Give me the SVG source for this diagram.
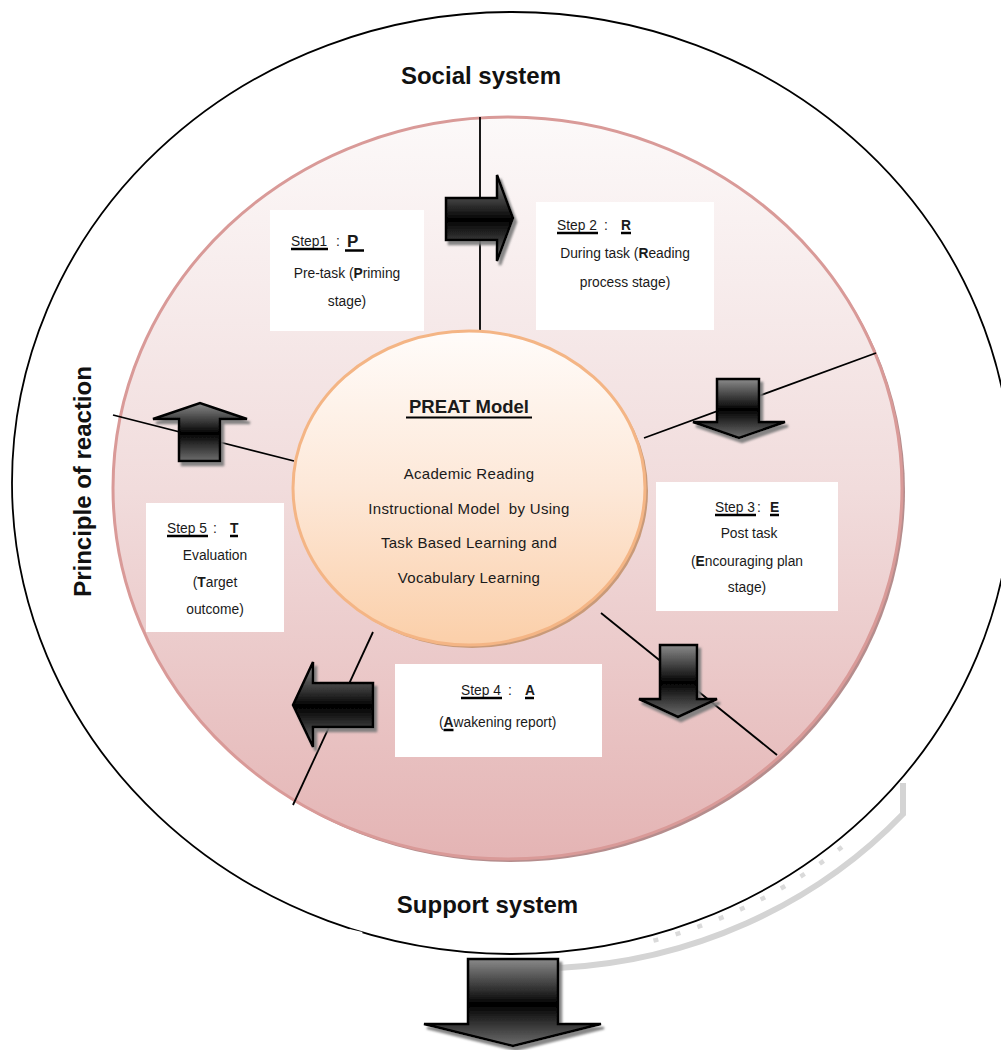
<svg xmlns="http://www.w3.org/2000/svg" width="1001" height="1050" viewBox="0 0 1001 1050">
<defs>
<linearGradient id="pinkG" x1="0" y1="0" x2="0" y2="1">
<stop offset="0" stop-color="#fcf9f9"/>
<stop offset="0.5" stop-color="#f1dcdc"/>
<stop offset="1" stop-color="#e4b4b4"/>
</linearGradient>
<linearGradient id="peachG" x1="0" y1="0" x2="0" y2="1">
<stop offset="0" stop-color="#fffcfa"/>
<stop offset="0.5" stop-color="#fde8d8"/>
<stop offset="1" stop-color="#fbcfa9"/>
</linearGradient>
<linearGradient id="arrG" x1="0" y1="0" x2="0" y2="1">
<stop offset="0" stop-color="#8a8a8a"/>
<stop offset="0.42" stop-color="#1e1e1e"/>
<stop offset="0.52" stop-color="#000"/>
<stop offset="1" stop-color="#6e6e6e"/>
</linearGradient>
<filter id="sh" x="-20%" y="-20%" width="150%" height="150%">
<feDropShadow dx="3" dy="4" stdDeviation="1" flood-color="#7a7a7a" flood-opacity="0.9"/>
</filter>
<style>
.t{font-family:"Liberation Sans",Arial,sans-serif;fill:#1a1a1a}
.s{font-size:13.8px}
.b{font-weight:bold}
.big{font-size:24px;font-weight:bold;fill:#111}
.c{font-size:15px;letter-spacing:0.3px}
.box{fill:#fff}
.arr{fill:url(#arrG);stroke:#000;stroke-width:2.5;stroke-linejoin:miter;filter:url(#sh)}
.ul{stroke:#000;stroke-width:2.5}
.ln{stroke:#000;stroke-width:1.8;fill:none}
</style>
</defs>
<rect width="1001" height="1050" fill="#fff"/>

<g id="outer-system">
<path d="M903 783 V814 A500 471 0 0 1 558 968" fill="none" stroke="#d4d4d4" stroke-width="6"/>
<path d="M840 842 A500 471 0 0 1 650 936" fill="none" stroke="#dadada" stroke-width="4.5" stroke-dasharray="5 18" transform="translate(2,5)"/>
<ellipse cx="512" cy="483" rx="500" ry="471" fill="none" stroke="#000" stroke-width="1.8"/>
<line x1="349" y1="931" x2="362" y2="934" stroke="#fff" stroke-width="4"/>
</g>

<g id="pink-circle">
<ellipse cx="510.5" cy="491" rx="394.5" ry="371" fill="#b58d8d"/>
<ellipse cx="507.5" cy="488" rx="394.5" ry="371" fill="url(#pinkG)" stroke="#d99a98" stroke-width="3"/>
</g>

<g id="connectors">
<line class="ln" x1="480" y1="117" x2="480" y2="331"/>
<line class="ln" x1="113" y1="415" x2="294" y2="461"/>
<line class="ln" x1="644" y1="438" x2="876" y2="353"/>
<line class="ln" x1="601" y1="613" x2="777" y2="755"/>
<line class="ln" x1="373" y1="632" x2="293" y2="805"/>
</g>

<g id="center-model">
<ellipse cx="472" cy="491" rx="176" ry="157" fill="#c99a78"/>
<ellipse cx="469" cy="488" rx="176" ry="157" fill="url(#peachG)" stroke="#f4b585" stroke-width="3"/>
<text class="t b" x="469" y="413" text-anchor="middle" font-size="18.5" font-weight="bold">PREAT Model</text>
<line x1="406" y1="417.5" x2="532" y2="417.5" stroke="#000" stroke-width="2"/>
<text class="t c" x="469" y="479" text-anchor="middle">Academic Reading</text>
<text class="t c" x="469" y="514" text-anchor="middle" xml:space="preserve">Instructional Model  by Using</text>
<text class="t c" x="469" y="548" text-anchor="middle">Task Based Learning and</text>
<text class="t c" x="469" y="583" text-anchor="middle">Vocabulary Learning</text>
</g>

<g id="step1">
<rect class="box" x="270" y="210" width="154" height="121"/>
<text class="t s" x="291" y="246">Step1</text>
<line class="ul" x1="291" y1="249" x2="328" y2="249"/>
<text class="t s" x="336" y="246">:</text>
<text class="t b" x="347" y="247" font-size="17">P</text>
<line class="ul" x1="345" y1="250.5" x2="364" y2="250.5" stroke-width="3"/>
<text class="t s" x="347" y="278" text-anchor="middle">Pre-task (<tspan font-weight="bold">P</tspan>riming</text>
<text class="t s" x="347" y="306" text-anchor="middle">stage)</text>
</g>

<g id="step2">
<rect class="box" x="536" y="202" width="178" height="128"/>
<text class="t s" x="557" y="230">Step 2</text>
<line class="ul" x1="557" y1="233" x2="598" y2="233"/>
<text class="t s" x="604" y="230">:</text>
<text class="t s b" x="621" y="230">R</text>
<line class="ul" x1="621" y1="233" x2="631" y2="233"/>
<text class="t s" x="625" y="258" text-anchor="middle">During task (<tspan font-weight="bold">R</tspan>eading</text>
<text class="t s" x="625" y="287" text-anchor="middle">process stage)</text>
</g>

<g id="step3">
<rect class="box" x="656" y="482" width="182" height="129"/>
<text class="t s" x="715" y="512">Step 3</text>
<line class="ul" x1="715" y1="515" x2="756" y2="515"/>
<text class="t s" x="757" y="512">:</text>
<text class="t s b" x="770" y="512">E</text>
<line class="ul" x1="770" y1="515" x2="779" y2="515"/>
<text class="t s" x="749" y="538" text-anchor="middle">Post task</text>
<text class="t s" x="747" y="566" text-anchor="middle">(<tspan font-weight="bold">E</tspan>ncouraging plan</text>
<text class="t s" x="747" y="592" text-anchor="middle">stage)</text>
</g>

<g id="step4">
<rect class="box" x="395" y="664" width="207" height="93"/>
<text class="t s" x="461" y="695">Step 4</text>
<line class="ul" x1="461" y1="698" x2="502" y2="698"/>
<text class="t s" x="508" y="695">:</text>
<text class="t s b" x="525" y="695">A</text>
<line class="ul" x1="525" y1="698" x2="534" y2="698"/>
<text class="t s" x="439" y="727">(<tspan font-weight="bold">A</tspan>wakening report)</text>
<line class="ul" x1="443.5" y1="730" x2="453.5" y2="730"/>
</g>

<g id="step5">
<rect class="box" x="146" y="503" width="138" height="129"/>
<text class="t s" x="167" y="533">Step 5</text>
<line class="ul" x1="167" y1="536" x2="208" y2="536"/>
<text class="t s" x="213" y="533">:</text>
<text class="t s b" x="230" y="533">T</text>
<line class="ul" x1="230" y1="536" x2="238" y2="536"/>
<text class="t s" x="215" y="560" text-anchor="middle">Evaluation</text>
<text class="t s" x="215" y="587" text-anchor="middle">(<tspan font-weight="bold">T</tspan>arget</text>
<text class="t s" x="215" y="614" text-anchor="middle">outcome)</text>
</g>

<g id="arrows">
<path class="arr" d="M446 198 H497 V175 L513 218 L497 261 V240 H446 Z"/>
<path class="arr" d="M717 379 H759 V422 H785 L739 438 L693 422 H717 Z"/>
<path class="arr" d="M660 645 H697 V699 H717 L678 717 L639 699 H660 Z"/>
<path class="arr" d="M373 683 V727 H313 V747 L293 705 L313 662 V683 Z"/>
<path class="arr" d="M179 461 V419 H153 L200 403 L247 419 H220 V461 Z"/>
<path class="arr" d="M468 959 H558 V1024 H601 L513 1046 L424 1024 H468 Z"/>
</g>

<g id="labels">
<text class="t big" x="481" y="84" text-anchor="middle">Social system</text>
<text class="t big" x="487.5" y="913" text-anchor="middle">Support system</text>
<text class="t big" transform="translate(91,481.5) rotate(-90)" text-anchor="middle">Principle of reaction</text>
</g>
</svg>
